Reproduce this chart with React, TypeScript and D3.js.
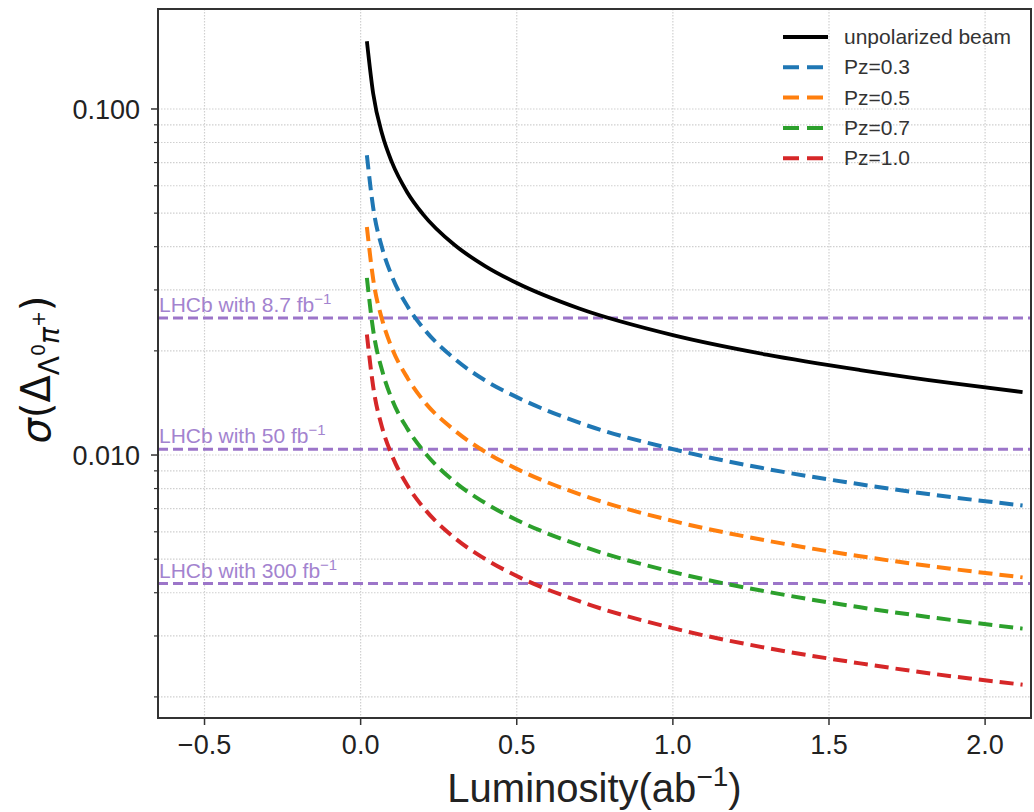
import React from "react";
import * as d3 from "d3";

const luminosity = [0.02, 0.04, 0.07, 0.1, 0.15, 0.2, 0.3, 0.4, 0.5, 0.7, 1.0, 1.3, 1.6, 1.9, 2.12];
const unpolarized = [0.157, 0.111, 0.0839, 0.0702, 0.0573, 0.0496, 0.0405, 0.0351, 0.0314, 0.0265, 0.0222, 0.0195, 0.0176, 0.0161, 0.0152];
const pz03 = [0.0735, 0.052, 0.0393, 0.0329, 0.0269, 0.0233, 0.019, 0.0164, 0.0147, 0.0124, 0.0104, 0.00912, 0.00823, 0.00754, 0.00715];
const pz05 = [0.0456, 0.0323, 0.0244, 0.0204, 0.0167, 0.0144, 0.0118, 0.0102, 0.00912, 0.00771, 0.00645, 0.00566, 0.0051, 0.00468, 0.00443];
const pz07 = [0.0325, 0.023, 0.0174, 0.0145, 0.0119, 0.0103, 0.00838, 0.00726, 0.00649, 0.00549, 0.00459, 0.00403, 0.00363, 0.00333, 0.00315];
const pz10 = [0.0223, 0.0158, 0.0119, 0.00999, 0.00816, 0.00707, 0.00577, 0.005, 0.00447, 0.00378, 0.00316, 0.00277, 0.0025, 0.00229, 0.00217];

const seriesNames = ["unpolarized beam", "Pz=0.3", "Pz=0.5", "Pz=0.7", "Pz=1.0"];
const seriesValues = [unpolarized, pz03, pz05, pz07, pz10];
const seriesColors = ["#000000", "#1f77b4", "#ff7f0e", "#2ca02c", "#d62728"];

const lhcbLabels = ["8.7", "50", "300"];
const lhcbValues = [0.0249, 0.0104, 0.00425];

const xTicks = [-0.5, 0.0, 0.5, 1.0, 1.5, 2.0];
const yMajorTicks = [0.01, 0.1];
const xDomain = [-0.649, 2.147];
const yDomain = [0.001738, 0.1945];

export default function App() {
  const W = 1034, H = 812;
  const left = 158, right = 1031, top = 9, bottom = 718;
  const x = d3.scaleLinear().domain(xDomain).range([left, right]);
  const y = d3.scaleLog().domain(yDomain).range([bottom, top]);

  const minorTicks: number[] = [];
  for (const dec of [0.001, 0.01, 0.1]) {
    for (let k = 2; k <= 9; k++) {
      const v = dec * k;
      if (v >= yDomain[0] && v <= yDomain[1]) minorTicks.push(v);
    }
  }

  const line = d3
    .line<[number, number]>()
    .x((d) => x(d[0]))
    .y((d) => y(d[1]))
    .curve(d3.curveMonotoneX);

  const font = "'Liberation Sans', Arial, sans-serif";
  const fmtY = d3.format(".3f");
  const fmtX = (v: number) => d3.format(".1f")(v).replace("-", "\u2212");

  return (
    <svg width={W} height={H} style={{ position: "absolute", left: 0, top: 0 }}>
      <rect x={0} y={0} width={W} height={H} fill="white" />
      <defs>
        <clipPath id="plotclip">
          <rect x={left} y={top} width={right - left} height={bottom - top} />
        </clipPath>
      </defs>
      {/* grid */}
      <g stroke="#d0d0d0" strokeWidth={1.2} strokeDasharray="1.5,1.5">
        {xTicks.map((t) => (
          <line key={"gx" + t} x1={x(t)} x2={x(t)} y1={top} y2={bottom} />
        ))}
        {[...yMajorTicks, ...minorTicks].map((t) => (
          <line key={"gy" + t} x1={left} x2={right} y1={y(t)} y2={y(t)} />
        ))}
      </g>
      {/* LHCb lines */}
      <g clipPath="url(#plotclip)">
        {lhcbValues.map((v, i) => (
          <g key={"lhcb" + i}>
            <line x1={left} x2={right} y1={y(v)} y2={y(v)} stroke="#9c75c9" strokeWidth={3} strokeDasharray="10,5" />
            <text x={left + 1} y={y(v) - 6} fontFamily={font} fontSize={21} fill="#a383cf">
              {"LHCb with " + lhcbLabels[i] + " fb"}
              <tspan dy={-8} fontSize={15}>{"\u22121"}</tspan>
            </text>
          </g>
        ))}
      </g>
      {/* curves */}
      <g clipPath="url(#plotclip)" fill="none">
        {seriesValues.map((vals, i) => (
          <path
            key={"s" + i}
            d={line(luminosity.map((l, j) => [l, vals[j]] as [number, number])) || ""}
            stroke={seriesColors[i]}
            strokeWidth={i === 0 ? 3.8 : 4}
            strokeDasharray={i === 0 ? undefined : "14,7"}
          />
        ))}
      </g>
      {/* spines */}
      <rect x={left} y={top} width={right - left} height={bottom - top} fill="none" stroke="#333" strokeWidth={2} />
      {/* x ticks */}
      {xTicks.map((t) => (
        <g key={"xt" + t}>
          <line x1={x(t)} x2={x(t)} y1={bottom} y2={bottom + 7} stroke="#333" strokeWidth={1.5} />
          <text x={x(t)} y={bottom + 36} textAnchor="middle" fontFamily={font} fontSize={27} fill="#222">
            {fmtX(t)}
          </text>
        </g>
      ))}
      {/* y ticks */}
      {yMajorTicks.map((t) => (
        <g key={"yt" + t}>
          <line x1={left - 7} x2={left} y1={y(t)} y2={y(t)} stroke="#333" strokeWidth={1.5} />
          <text x={left - 18} y={y(t) + 10} textAnchor="end" fontFamily={font} fontSize={27} fill="#222">
            {fmtY(t)}
          </text>
        </g>
      ))}
      {minorTicks.map((t) => (
        <line key={"ym" + t} x1={left - 4} x2={left} y1={y(t)} y2={y(t)} stroke="#333" strokeWidth={1.2} />
      ))}
      {/* axis labels */}
      <text x={(left + right) / 2} y={802} textAnchor="middle" fontFamily={font} fontSize={40} fill="#222">
        Luminosity(ab
        <tspan dy={-16} fontSize={28}>{"\u22121"}</tspan>
        <tspan dy={16}>)</tspan>
      </text>
      <text
        transform={`translate(50, ${(top + bottom) / 2 + 6}) rotate(-90)`}
        textAnchor="middle"
        fontFamily="'DejaVu Sans', sans-serif"
        fontSize={40}
        fill="#111"
      >
        <tspan fontStyle="italic">σ</tspan>
        <tspan>(Δ</tspan>
        <tspan dy={9} fontSize={28}>Λ</tspan>
        <tspan dy={-14} fontSize={19}>0</tspan>
        <tspan dy={14} fontSize={28} fontStyle="italic">π</tspan>
        <tspan dy={-14} fontSize={19}>+</tspan>
        <tspan dy={-9 + 14} fontSize={40}>)</tspan>
      </text>
      {/* legend */}
      {seriesNames.map((name, i) => {
        const ly = 37 + i * 30.3;
        return (
          <g key={"lg" + i}>
            <line
              x1={783}
              x2={828}
              y1={ly}
              y2={ly}
              stroke={seriesColors[i]}
              strokeWidth={4}
              strokeDasharray={i === 0 ? undefined : "16,8"}
            />
            <text x={844} y={ly + 7} fontFamily={font} fontSize={21} fill="#333">
              {name}
            </text>
          </g>
        );
      })}
    </svg>
  );
}
